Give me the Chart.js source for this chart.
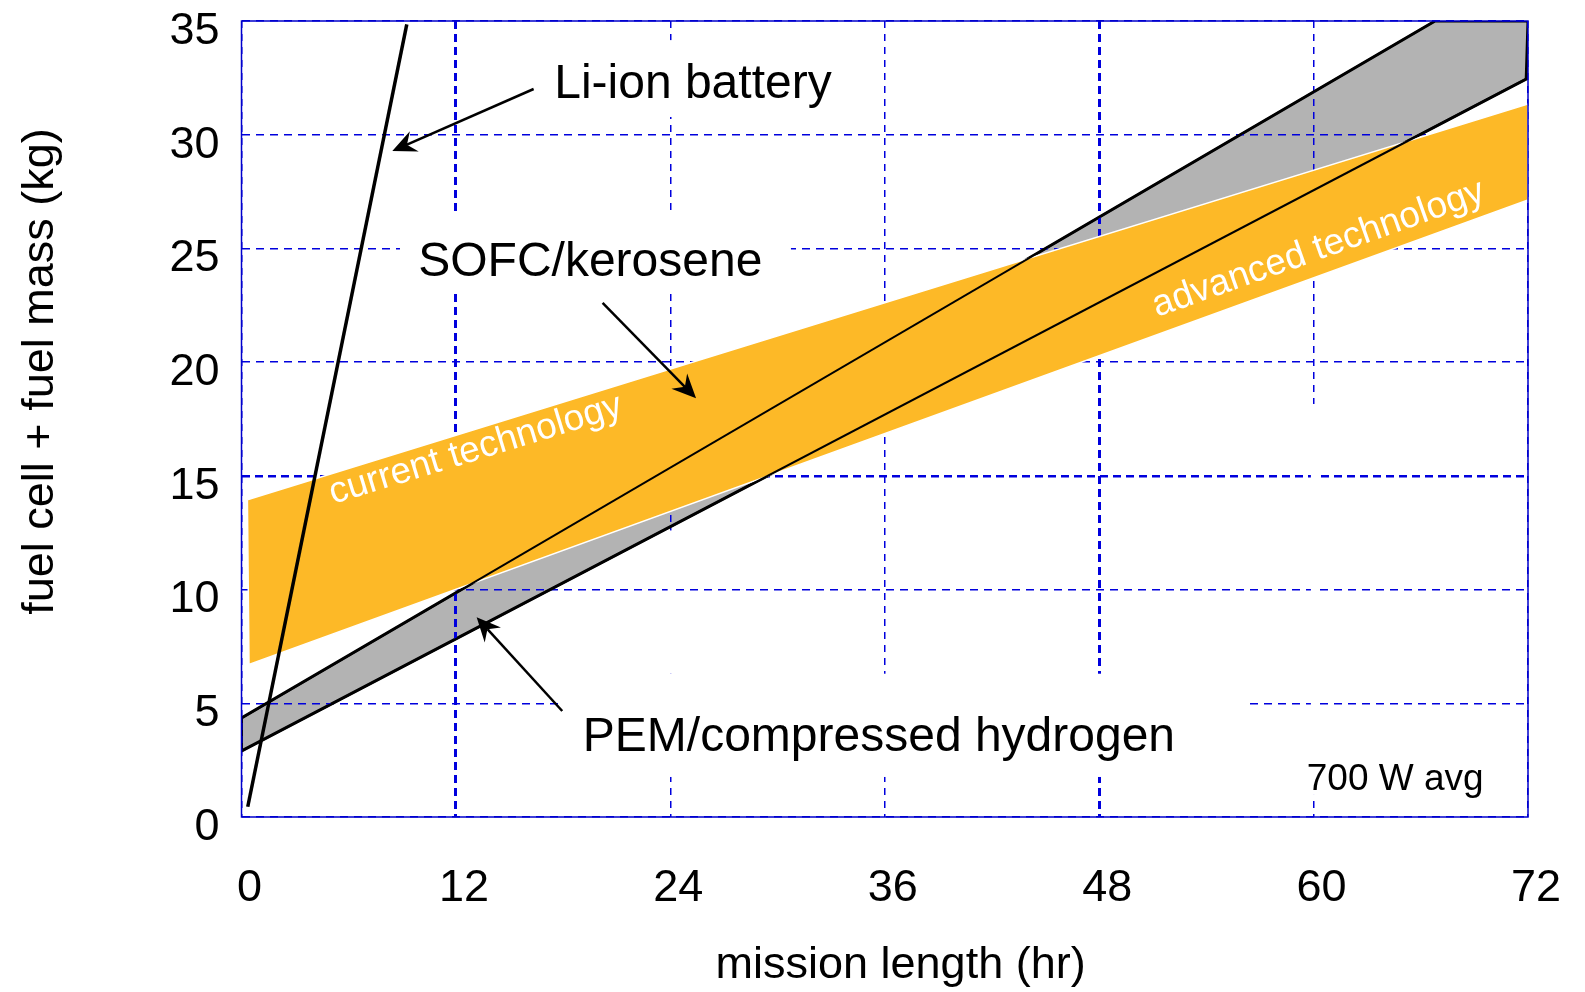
<!DOCTYPE html>
<html>
<head>
<meta charset="utf-8">
<title>fuel cell + fuel mass</title>
<script src="https://cdn.jsdelivr.net/npm/chart.js@4.4.0/dist/chart.umd.min.js"></script>
<style>
    html, body { margin: 0; padding: 0; background: #fff; }
    canvas { display: block; }
</style>
</head>
<body>
<canvas id="massChart" width="1585" height="992"></canvas>
<script>
// Tick values
const hourTicks = [0, 12, 24, 36, 48, 60, 72];
const massTicks = [0, 5, 10, 15, 20, 25, 30, 35];

// Li-ion battery
const liIonHours = [0.35, 9.25];
const liIonMass = [0.45, 34.85];

// PEM / compressed hydrogen band (upper edge runs into the top of the plot)
const pemUpperHours = [0, 66.8, 72];
const pemUpperMass = [4.35, 35, 35];
const pemLowerHours = [0, 71.9];
const pemLowerMass = [2.9, 32.45];

// SOFC / kerosene band: current technology on top, advanced technology below
const sofcCurrentHours = [0.33, 72];
const sofcCurrentMass = [13.95, 31.35];
const sofcAdvancedHours = [0.42, 72];
const sofcAdvancedMass = [6.71, 27.13];

const FONT = '"Liberation Sans", Arial, Helvetica, sans-serif';
const GRID_BLUE = '#0000dd';
const FRAME_BLUE = '#0000cc';

// Text notes, placed in data units (hours, kg)
const notes = [
    { text: 'Li-ion battery', x: 17.5, y: 31.63, size: 48, color: '#000', angle: 0 },
    { text: 'SOFC/kerosene', x: 9.89, y: 23.77, size: 48, color: '#000', angle: 0 },
    { text: 'PEM/compressed hydrogen', x: 19.1, y: 2.9, size: 48, color: '#000', angle: 0 },
    { text: '700 W avg', x: 59.62, y: 1.19, size: 37, color: '#000', angle: 0 },
    { text: 'current technology', x: 5.12, y: 13.76, size: 37, color: '#fff', angle: -17 },
    { text: 'advanced technology', x: 51.24, y: 21.98, size: 37, color: '#fff', angle: -19.5 },
];

// Arrows, tail -> tip, in data units
const arrows = [
    { from: [16.35, 32.01], to: [8.44, 29.28] },
    { from: [20.21, 22.61], to: [25.44, 18.41] },
    { from: [17.95, 4.66], to: [13.16, 8.78] },
];

// White areas behind the labels where the grid is not drawn (data units)
const gridMasks = [
    { x0: 16.5, x1: 33, y0: 30.78, y1: 34.16 },   // Li-ion battery
    { x0: 8.87, x1: 30.75, y0: 23.04, y1: 26.6 },  // SOFC/kerosene
    { x0: 17.83, x1: 56.4, y0: 1.76, y1: 6.3 },    // PEM/compressed hydrogen
    { x0: 23.85, x1: 24.15, y0: 6.3, y1: 12.6 },
    { x0: 59.85, x1: 60.15, y0: 0.97, y1: 18.16 },
];

// Build {x, y} points from two arrays
function toPoints( hours, mass ) {
    return hours.map((h, i) => ({ x: h, y: mass[i] }));
}

// Closed polygon: one edge forward, the other edge backward
function band( topH, topM, botH, botM ) {
    const pts = toPoints(topH, topM).concat(toPoints(botH, botM).reverse());
    pts.push(pts[0]);
    return pts;
}

function drawArrow( ctx, x1, y1, x2, y2 ) {
    const ang = Math.atan2(y2 - y1, x2 - x1);
    const c = Math.cos(ang), s = Math.sin(ang);
    const len = 24, half = 11, notch = 16;
    ctx.beginPath();
    ctx.moveTo(x1, y1);
    ctx.lineTo(x2 - c * notch, y2 - s * notch);
    ctx.stroke();
    ctx.beginPath();
    ctx.moveTo(x2, y2);
    ctx.lineTo(x2 - c * len + s * half, y2 - s * len - c * half);
    ctx.lineTo(x2 - c * notch, y2 - s * notch);
    ctx.lineTo(x2 - c * len - s * half, y2 - s * len + c * half);
    ctx.closePath();
    ctx.fill();
}

// Masks, frame, arrows, notes and axis titles
const overlayPlugin = {
    id: 'overlay',
    beforeDatasetsDraw(chart) {
        const { ctx, scales: { x, y } } = chart;
        ctx.save();
        ctx.fillStyle = '#fff';
        gridMasks.forEach(m => {
            const left = x.getPixelForValue(m.x0), right = x.getPixelForValue(m.x1);
            const top = y.getPixelForValue(m.y1), bottom = y.getPixelForValue(m.y0);
            ctx.fillRect(left, top, right - left, bottom - top);
        });
        ctx.restore();
    },
    afterDatasetDraw(chart, args) {
        // grid shows through the grey band, but not through the orange one
        if (chart.data.datasets[args.index].id !== 'pemBand') return;
        const { ctx } = chart;
        const pts = args.meta.data;
        ctx.save();
        ctx.beginPath();
        pts.forEach((p, i) => (i ? ctx.lineTo(p.x, p.y) : ctx.moveTo(p.x, p.y)));
        ctx.closePath();
        ctx.clip();
        chart.scales.x.drawGrid(chart.chartArea);
        chart.scales.y.drawGrid(chart.chartArea);
        ctx.restore();
    },
    afterDatasetsDraw(chart) {
        const { ctx, chartArea: a, scales: { x, y } } = chart;
        ctx.save();

        ctx.strokeStyle = FRAME_BLUE;
        ctx.lineWidth = 1.5;
        ctx.strokeRect(a.left, a.top, a.right - a.left, a.bottom - a.top);

        ctx.strokeStyle = '#000';
        ctx.fillStyle = '#000';
        ctx.lineWidth = 2.5;
        arrows.forEach(ar => {
            drawArrow(ctx,
                x.getPixelForValue(ar.from[0]), y.getPixelForValue(ar.from[1]),
                x.getPixelForValue(ar.to[0]), y.getPixelForValue(ar.to[1]));
        });

        ctx.textAlign = 'left';
        ctx.textBaseline = 'alphabetic';
        notes.forEach(n => {
            ctx.save();
            ctx.translate(x.getPixelForValue(n.x), y.getPixelForValue(n.y));
            ctx.rotate(n.angle * Math.PI / 180);
            ctx.font = n.size + 'px ' + FONT;
            ctx.fillStyle = n.color;
            ctx.fillText(n.text, 0, 0);
            ctx.restore();
        });

        // axis titles
        ctx.fillStyle = '#000';
        ctx.font = '45px ' + FONT;
        ctx.textAlign = 'center';
        ctx.textBaseline = 'middle';
        ctx.fillText('mission length (hr)', 900.6, 966);
        ctx.translate(41, 371.5);
        ctx.rotate(-Math.PI / 2);
        ctx.fillText('fuel cell + fuel mass (kg)', 0, 0);

        ctx.restore();
    }
};

const tickFont = { family: FONT, size: 45, lineHeight: 1 };

const ctx = document.getElementById('massChart').getContext('2d');
const massChart = new Chart(ctx, {
    type: 'line',
    data: {
        datasets: [
            {
                id: 'pemBand',
                data: band(pemUpperHours, pemUpperMass, pemLowerHours, pemLowerMass),
                backgroundColor: '#b3b3b3',
                borderColor: '#000',
                borderWidth: 3,
                fill: 'shape',
                order: 5,
            },
            {
                id: 'sofcBand',
                data: band(sofcCurrentHours, sofcCurrentMass, sofcAdvancedHours, sofcAdvancedMass),
                backgroundColor: '#fdb927',
                borderColor: '#fff',
                borderWidth: 1.5,
                fill: 'shape',
                order: 4,
            },
            {
                id: 'pemUpper',
                data: toPoints(pemUpperHours.slice(0, 2), pemUpperMass.slice(0, 2)),
                borderColor: '#000',
                borderWidth: 2,
                fill: false,
                order: 3,
            },
            {
                id: 'pemLower',
                data: toPoints(pemLowerHours, pemLowerMass),
                borderColor: '#000',
                borderWidth: 2,
                fill: false,
                order: 3,
            },
            {
                id: 'liIon',
                data: toPoints(liIonHours, liIonMass),
                borderColor: '#000',
                borderWidth: 3.5,
                fill: false,
                order: 1,
            },
        ],
    },
    options: {
        responsive: false,
        animation: false,
        layout: { padding: { left: 0, right: 57, top: 21, bottom: 0 } },
        elements: {
            point: { radius: 0, hoverRadius: 0 },
            line: { tension: 0, capBezierPoints: false },
        },
        plugins: {
            legend: { display: false },
            tooltip: { enabled: false },
        },
        events: [],
        scales: {
            x: {
                type: 'linear',
                min: 0,
                max: 72,
                afterBuildTicks: s => { s.ticks = hourTicks.map(v => ({ value: v })); },
                afterFit: s => { s.height = 175; s.paddingLeft = 0; s.paddingRight = 0; },
                ticks: { font: tickFont, color: '#000', padding: 49, labelOffset: 8, maxRotation: 0, autoSkip: false },
                grid: {
                    color: GRID_BLUE,
                    drawTicks: false,
                    lineWidth: c => (c.tick && (c.tick.value === 12 || c.tick.value === 48)) ? 3 : 1.5,
                },
                border: {
                    display: false,
                    dash: c => (c.tick && (c.tick.value === 12 || c.tick.value === 48)) ? [8, 5] : [7, 6],
                },
            },
            y: {
                type: 'linear',
                min: 0,
                max: 35,
                afterBuildTicks: s => { s.ticks = massTicks.map(v => ({ value: v })); },
                afterFit: s => { s.width = 241.5; s.paddingTop = 0; s.paddingBottom = 0; },
                ticks: { font: tickFont, color: '#000', padding: 22, labelOffset: 10.5 },
                grid: {
                    color: GRID_BLUE,
                    drawTicks: false,
                    lineWidth: c => (c.tick && c.tick.value === 15) ? 2.5 : 1.5,
                },
                border: {
                    display: false,
                    dash: c => (c.tick && c.tick.value === 15) ? [8, 5] : [8, 6],
                },
            },
        },
    },
    plugins: [overlayPlugin],
});
</script>
</body>
</html>
